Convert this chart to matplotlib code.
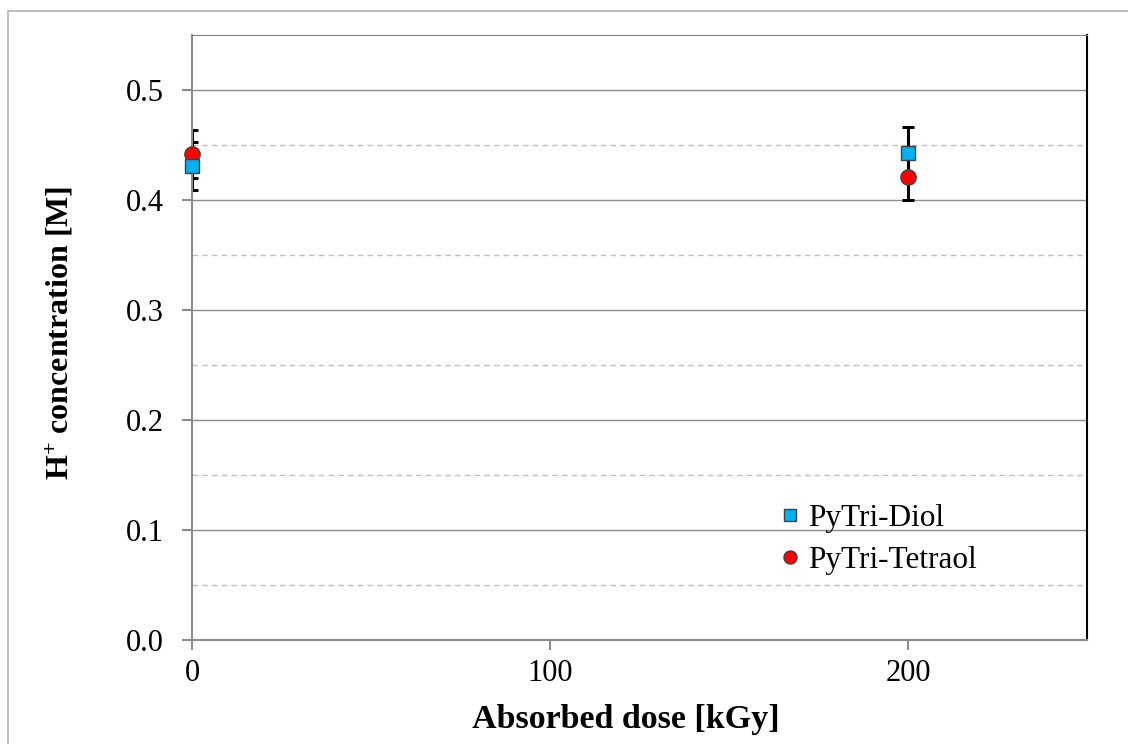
import matplotlib.pyplot as plt
from matplotlib.patches import Rectangle

plt.rcParams['font.family'] = ['Liberation Serif', 'DejaVu Serif']
plt.rcParams['mathtext.fontset'] = 'custom'
plt.rcParams['mathtext.rm'] = 'Liberation Serif'
plt.rcParams['mathtext.default'] = 'regular'

#DATA
################################################################################
dose = [0, 200]
diol = [0.431, 0.443]
diol_err = [0.022, 0.023]
tetraol = [0.442, 0.421]
tetraol_err = [0.022, 0.021]

#PLOT
################################################################################
fig = plt.figure(figsize=(11.28, 7.44), dpi=100)
ax = fig.add_axes([192/1128, 1-640/744, (1087-192)/1128, (640-35)/744])

#outer frame of the chart object
fig.patches.append(Rectangle((8/1128, -0.05), 1.2, 1-11/744+0.05, transform=fig.transFigure,
                             fill=False, edgecolor='#b3b3b3', linewidth=1.2))

#gridlines
for v in [0.1, 0.2, 0.3, 0.4, 0.5]:
    ax.axhline(v, color='#8c8c8c', linewidth=1.0, zorder=0)
for v in [0.05, 0.15, 0.25, 0.35, 0.45]:
    ax.axhline(v, color='#bfbfbf', linewidth=1.0, linestyle=(0, (4, 3)), zorder=0)

#error bars (clipped at the axis like the original)
ax.errorbar(dose, diol, yerr=diol_err, fmt='none', ecolor='black', elinewidth=2.2,
            capsize=4, capthick=2.2, zorder=2)
ax.errorbar(dose, tetraol, yerr=tetraol_err, fmt='none', ecolor='black', elinewidth=2.2,
            capsize=4, capthick=2.2, zorder=2)

ax.plot(dose, diol, 's', color='#00b0f0', markeredgecolor='#404040', markersize=10,
        markeredgewidth=1.0, label='PyTri-Diol', clip_on=False, zorder=4)
ax.plot(dose, tetraol, 'o', color='#ff0000', markeredgecolor='#404040', markersize=11,
        markeredgewidth=1.0, label='PyTri-Tetraol', clip_on=False, zorder=3)

ax.set_xlim(0, 250)
ax.set_ylim(0, 0.55)
ax.set_xticks([0, 100, 200])
ax.set_yticks([0.0, 0.1, 0.2, 0.3, 0.4, 0.5])
ax.set_yticklabels(['0.0', '0.1', '0.2', '0.3', '0.4', '0.5'])
ax.tick_params(axis='both', direction='out', length=7, width=1.5, color='#8c8c8c',
               labelsize=22)
ax.tick_params(axis='y', pad=13)
ax.tick_params(axis='x', pad=7)

ax.spines['left'].set_color('#8c8c8c')
ax.spines['bottom'].set_color('#8c8c8c')
ax.spines['left'].set_linewidth(1.5)
ax.spines['bottom'].set_linewidth(1.5)
ax.spines['top'].set_color('#808080')
ax.spines['right'].set_color('black')
ax.spines['right'].set_linewidth(1.5)

ax.set_xlabel('Absorbed dose [kGy]', fontsize=24.5, fontweight='bold')
ax.set_ylabel('H$^{+}$ concentration [M]', fontsize=23, fontweight='bold')
ax.xaxis.set_label_coords(0.485, -64/605, transform=ax.transAxes)
ax.yaxis.set_label_coords(-116/895, 0.508, transform=ax.transAxes)

ax.legend(loc='upper left', bbox_to_anchor=(0.646, 0.245), frameon=False, fontsize=22.5,
          handlelength=0.5, handletextpad=0.3, labelspacing=0.42, borderaxespad=0,
          markerscale=0.85)

plt.savefig('out.png', dpi=100)
